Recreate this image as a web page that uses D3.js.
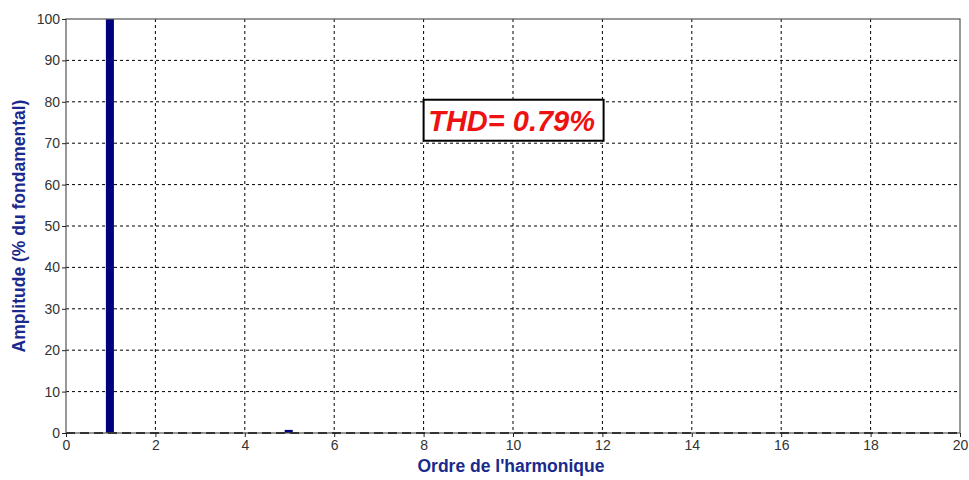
<!DOCTYPE html>
<html>
<head>
<meta charset="utf-8">
<script src="https://cdn.jsdelivr.net/npm/d3@7"></script>
<style>
  body { margin: 0; background: #fff; }
  svg { display: block; font-family: Arial, "Liberation Sans", sans-serif; }
</style>
</head>
<body>
<svg id="chart" width="969" height="480"></svg>
<script>
// harmonic orders and amplitudes (% of fundamental)
var orders = [1, 2, 3, 4, 5, 6, 7, 8, 9, 10, 11, 12, 13, 14, 15, 16, 17, 18, 19]
var amplitudes = [100, 0.05, 0.08, 0.04, 0.75, 0.05, 0.12, 0.03, 0.05, 0.03, 0.06, 0.02, 0.05, 0.02, 0.03, 0.02, 0.03, 0.02, 0.02]
var xTicks = [0, 2, 4, 6, 8, 10, 12, 14, 16, 18, 20]
var yTicks = [0, 10, 20, 30, 40, 50, 60, 70, 80, 90, 100]
var thdLabel = "THD= 0.79%"

var svg = d3.select("#chart")
var margin = {left: 66, right: 9, top: 19, bottom: 47}
var width = 969 - margin.left - margin.right
var height = 480 - margin.top - margin.bottom

var x = d3.scaleLinear().domain([0, 20]).range([0, width])
var y = d3.scaleLinear().domain([0, 100]).range([height, 0])

var g = svg.append("g").attr("transform", "translate(" + margin.left + "," + margin.top + ")")

// grid
g.append("g").selectAll("line").data(xTicks.slice(1, -1)).join("line")
  .attr("x1", d => x(d)).attr("x2", d => x(d))
  .attr("y1", 0).attr("y2", height)
  .attr("stroke", "#000").attr("stroke-dasharray", "3,3")
g.append("g").selectAll("line").data(yTicks.slice(1, -1)).join("line")
  .attr("x1", 0).attr("x2", width)
  .attr("y1", d => y(d)).attr("y2", d => y(d))
  .attr("stroke", "#000").attr("stroke-dasharray", "3,3")

// bars
var barW = x(0.18) - x(0)
g.append("g").selectAll("rect").data(orders).join("rect")
  .attr("x", (d) => x(d) - barW / 2 - 0.8)
  .attr("width", barW)
  .attr("y", (d, i) => y(amplitudes[i]))
  .attr("height", (d, i) => y(0) - y(amplitudes[i]))
  .attr("fill", "#00007f")

// dashed baseline
g.append("line")
  .attr("x1", 0).attr("x2", width)
  .attr("y1", y(0)).attr("y2", y(0))
  .attr("stroke", "#000").attr("stroke-width", 2).attr("stroke-dasharray", "9,5")

// frame
g.append("rect").attr("width", width).attr("height", height)
  .attr("fill", "none").attr("stroke", "#555").attr("stroke-width", 1.2)

// axes
var xAxis = g.append("g").attr("transform", "translate(0," + height + ")")
  .call(d3.axisBottom(x).tickValues(xTicks).tickSize(4).tickPadding(3))
var yAxis = g.append("g")
  .call(d3.axisLeft(y).tickValues(yTicks).tickSize(4).tickPadding(2))
;[xAxis, yAxis].forEach(function(a) {
  a.select(".domain").remove()
  a.selectAll(".tick line").attr("stroke", "#222")
  a.selectAll("text").attr("font-size", 14).attr("fill", "#333")
    .attr("font-family", "Arial, 'Liberation Sans', sans-serif")
})

// axis labels
svg.append("text")
  .attr("x", 511).attr("y", 472)
  .attr("text-anchor", "middle")
  .attr("font-size", 17.5).attr("font-weight", "bold").attr("fill", "#1a2a8c")
  .text("Ordre de l'harmonique")
svg.append("text")
  .attr("transform", "translate(25," + (margin.top + height / 2) + ") rotate(-90)")
  .attr("text-anchor", "middle")
  .attr("font-size", 17.5).attr("font-weight", "bold").attr("fill", "#1a2a8c")
  .text("Amplitude (% du fondamental)")

// THD box
var tb = g.append("g").attr("transform", "translate(" + x(8) + "," + y(80.5) + ")")
tb.append("rect").attr("width", 180).attr("height", 41)
  .attr("fill", "#fff").attr("stroke", "#000").attr("stroke-width", 2)
tb.append("text").attr("x", 88).attr("y", 31).attr("text-anchor", "middle")
  .attr("font-size", 29).attr("font-weight", "bold").attr("font-style", "italic")
  .attr("fill", "#ee1111").text(thdLabel)
</script>
</body>
</html>
